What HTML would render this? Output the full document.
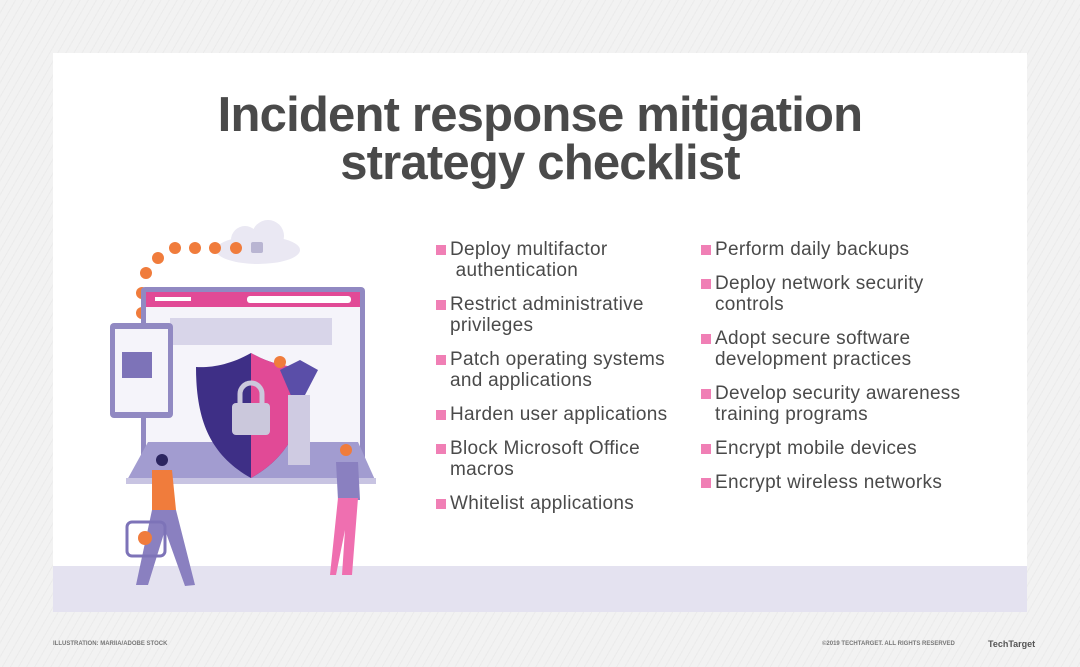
<!DOCTYPE html>
<html><head><meta charset="utf-8"><style>
html,body{margin:0;padding:0}
body{width:1080px;height:667px;position:relative;overflow:hidden;background:#f2f2f2;
background-image:repeating-linear-gradient(120deg,#f2f2f2 0 6px,#ebebeb 6px 7px);font-family:"Liberation Sans",sans-serif}
#card{position:absolute;left:53px;top:53px;width:974px;height:559px;background:#fff}
#band{position:absolute;left:53px;top:566px;width:974px;height:46px;background:#e4e2f0}
h1{position:absolute;left:0;top:91px;width:1080px;margin:0;text-align:center;font-size:49px;line-height:48px;font-weight:bold;color:#4a4a4a;letter-spacing:-0.8px}
.it{position:absolute;font-size:19px;line-height:21px;color:#4a4a4a;letter-spacing:0.3px}
.it:before{content:"";position:absolute;left:-14px;top:6px;width:10px;height:10px;background:#f07fb5}
.c1{left:450px}.c2{left:715px}
.ft{position:absolute;top:641px;font-size:6px;color:#777;font-weight:bold}
</style></head><body>
<div id="card"></div><div id="band"></div>
<h1>Incident response mitigation<br>strategy checklist</h1>
<div class="it c1" style="top:239px">Deploy multifactor<br>&nbsp;authentication</div>
<div class="it c1" style="top:294px">Restrict administrative<br>privileges</div>
<div class="it c1" style="top:349px">Patch operating systems<br>and applications</div>
<div class="it c1" style="top:404px">Harden user applications</div>
<div class="it c1" style="top:438px">Block Microsoft Office<br>macros</div>
<div class="it c1" style="top:493px">Whitelist applications</div>
<div class="it c2" style="top:239px">Perform daily backups</div>
<div class="it c2" style="top:273px">Deploy network security<br>controls</div>
<div class="it c2" style="top:328px">Adopt secure software<br>development practices</div>
<div class="it c2" style="top:383px">Develop security awareness<br>training programs</div>
<div class="it c2" style="top:438px">Encrypt mobile devices</div>
<div class="it c2" style="top:472px">Encrypt wireless networks</div>
<div class="ft" style="left:53px">ILLUSTRATION: MARIIA/ADOBE STOCK</div>
<div class="ft" style="left:822px">©2019 TECHTARGET. ALL RIGHTS RESERVED</div>
<div class="ft" style="left:988px;top:639px;font-size:9px;color:#555">TechTarget</div>
<svg style="position:absolute;left:0;top:0" width="1080" height="667">
<ellipse cx="258" cy="250" rx="42" ry="14" fill="#eae8f3"/><circle cx="245" cy="240" r="14" fill="#eae8f3"/><circle cx="268" cy="236" r="16" fill="#eae8f3"/>
<rect x="251" y="242" width="12" height="11" rx="2" fill="#b9b5d2"/>
<g fill="#f07c3c"><circle cx="236" cy="248" r="6"/><circle cx="215" cy="248" r="6"/><circle cx="195" cy="248" r="6"/><circle cx="175" cy="248" r="6"/><circle cx="158" cy="258" r="6"/><circle cx="146" cy="273" r="6"/><circle cx="142" cy="293" r="6"/><circle cx="142" cy="313" r="6"/><circle cx="142" cy="333" r="6"/></g>
<rect x="141" y="287" width="224" height="185" rx="4" fill="#9189c2"/>
<rect x="146" y="292" width="214" height="178" fill="#f5f4fa"/>
<rect x="146" y="292" width="214" height="15" fill="#e14a96"/>
<rect x="247" y="296" width="104" height="7" rx="3" fill="#fff"/>
<rect x="155" y="297" width="36" height="4" fill="#fff"/>
<rect x="170" y="318" width="162" height="27" fill="#d8d5e9"/>
<polygon points="148,442 358,442 376,482 126,482" fill="#a29cd0"/>
<rect x="126" y="478" width="250" height="6" fill="#c8c4e2"/>
<rect x="110" y="323" width="63" height="95" rx="4" fill="#9189c2"/>
<rect x="115" y="329" width="53" height="83" fill="#f5f4fa"/>
<rect x="122" y="352" width="30" height="26" fill="#7d73b8"/>
<path d="M251,353 C230,365 210,368 196,367 C196,420 210,455 251,478 C292,455 306,420 306,367 C292,368 272,365 251,353Z" fill="#3e2f86"/>
<path d="M251,353 C272,365 292,368 306,367 C306,420 292,455 251,478Z" fill="#e14a96"/>
<rect x="232" y="403" width="38" height="32" rx="4" fill="#cbc8dc"/>
<path d="M240,404 v-10 a11,11 0 0 1 22,0 v10" fill="none" stroke="#cbc8dc" stroke-width="5"/>
<path d="M280,370 L300,360 L318,370 L305,395 L292,398Z" fill="#5a4ea8"/>
<rect x="288" y="395" width="22" height="70" fill="#cfcbe2"/>
<circle cx="280" cy="362" r="6" fill="#f07c3c"/>
<circle cx="162" cy="460" r="6" fill="#2b2560"/>
<path d="M152,470 L172,470 L176,510 L152,512Z" fill="#f07c3c"/>
<path d="M152,510 L176,510 L195,585 L185,586 L165,530 L148,585 L136,585Z" fill="#8a80c0"/>
<rect x="127" y="522" width="38" height="34" rx="5" fill="none" stroke="#7d73b8" stroke-width="3"/>
<circle cx="145" cy="538" r="7" fill="#f07c3c"/>
<circle cx="346" cy="450" r="6" fill="#f07c3c"/>
<path d="M336,462 L358,462 L360,500 L338,500Z" fill="#8a80c0"/>
<path d="M338,498 L358,498 L352,575 L342,575 L345,530 L336,575 L330,575Z" fill="#ef6fb0"/>
</svg>
</body></html>
